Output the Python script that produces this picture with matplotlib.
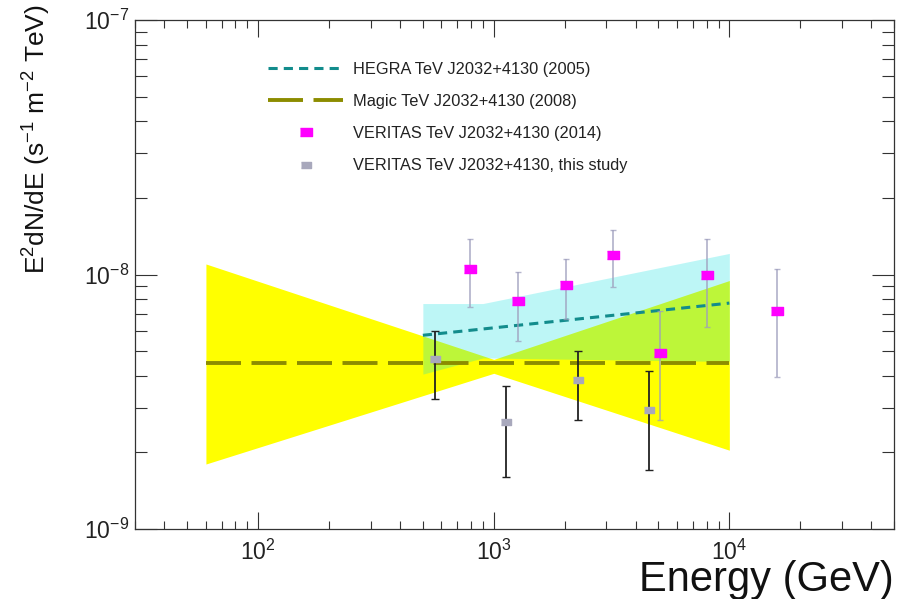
import matplotlib
matplotlib.use("Agg")
import matplotlib.pyplot as plt
from matplotlib.ticker import LogLocator, NullFormatter, FixedLocator

# Fontes parecidas com Helvetica do ROOT
plt.rcParams['font.family'] = ['Liberation Sans', 'DejaVu Sans']
plt.rcParams['mathtext.fontset'] = 'custom'
plt.rcParams['mathtext.rm'] = 'Liberation Sans'
plt.rcParams['mathtext.it'] = 'Liberation Sans:italic'
plt.rcParams['mathtext.bf'] = 'Liberation Sans:bold'

# MAGIC (2008): bowtie e linha constante
magic_band_e = [60, 1000, 10000]
magic_upper = [1.10e-8, 4.64e-9, 9.47e-9]
magic_lower = [1.80e-9, 4.09e-9, 2.04e-9]
magic_e = [60, 10000]
magic_flux = [4.48e-9, 4.48e-9]

# HEGRA (2005): banda e ajuste
hegra_band_e = [500, 900, 10000]
hegra_upper = [7.69e-9, 7.69e-9, 1.21e-8]
hegra_lower = [4.06e-9, 4.70e-9, 4.55e-9]
hegra_e = [500, 10000]
hegra_flux = [5.77e-9, 7.72e-9]

# VERITAS (2014)
v14_e = [790, 1270, 2020, 3210, 5100, 8000, 16000]
v14_flux = [1.05e-8, 7.84e-9, 9.11e-9, 1.19e-8, 4.93e-9, 9.98e-9, 7.19e-9]
v14_hi = [1.38e-8, 1.02e-8, 1.15e-8, 1.49e-8, 7.22e-9, 1.38e-8, 1.05e-8]
v14_lo = [7.42e-9, 5.46e-9, 6.68e-9, 8.97e-9, 2.68e-9, 6.20e-9, 3.96e-9]

# VERITAS, este estudo
vs_e = [562, 1130, 2280, 4540]
vs_flux = [4.64e-9, 2.63e-9, 3.84e-9, 2.94e-9]
vs_hi = [6.01e-9, 3.66e-9, 4.99e-9, 4.17e-9]
vs_lo = [3.25e-9, 1.60e-9, 2.67e-9, 1.70e-9]

fig = plt.figure(figsize=(8.99, 5.99), dpi=100)
ax = fig.add_axes([135 / 899, 70 / 599, 759 / 899, 509 / 599])
ax.set_xscale('log')
ax.set_yscale('log')
ax.set_xlim(30, 5e4)
ax.set_ylim(1e-9, 1e-7)

# bandas
ax.fill_between(magic_band_e, magic_lower, magic_upper, color='#ffff00', lw=0, zorder=1)
ax.fill_between(hegra_band_e, hegra_lower, hegra_upper, color='#00e0e0', alpha=0.26, lw=0, zorder=2)

# linhas
rect = [(-1.5, -1), (1.5, -1), (1.5, 1), (-1.5, 1)]
l_hegra, = ax.plot(hegra_e, hegra_flux, color='#128c8c', lw=2.2, dashes=(3, 2),
                   zorder=5, label='HEGRA TeV J2032+4130 (2005)')
l_magic, = ax.plot(magic_e, magic_flux, color='#8c8c00', lw=2.8, dashes=(9, 2.7),
                   zorder=4, label='Magic TeV J2032+4130 (2008)')

# pontos
lo14 = [f - l for f, l in zip(v14_flux, v14_lo)]
hi14 = [h - f for f, h in zip(v14_flux, v14_hi)]
ax.errorbar(v14_e, v14_flux, yerr=[lo14, hi14], fmt='none', ecolor=(0.62, 0.62, 0.74, 0.75),
            elinewidth=1.3, capsize=2.5, capthick=1.0, zorder=6)
p14, = ax.plot(v14_e, v14_flux, ls='none', marker=rect, ms=8.5, color='#ff00ff',
               mec='#ff00ff', zorder=7, label='VERITAS TeV J2032+4130 (2014)')

los = [f - l for f, l in zip(vs_flux, vs_lo)]
his = [h - f for f, h in zip(vs_flux, vs_hi)]
ax.errorbar(vs_e, vs_flux, yerr=[los, his], fmt='none', ecolor='#222222',
            elinewidth=1.3, capsize=3, capthick=1.0, zorder=6)
ps, = ax.plot(vs_e, vs_flux, ls='none', marker=rect, ms=7.5, color='#a8a8bc',
              mec='#a8a8bc', zorder=7, label='VERITAS TeV J2032+4130, this study')

# eixos estilo ROOT
ax.xaxis.set_major_locator(FixedLocator([1e2, 1e3, 1e4]))
ax.xaxis.set_minor_locator(LogLocator(base=10, subs=range(2, 10), numticks=20))
ax.xaxis.set_minor_formatter(NullFormatter())
ax.yaxis.set_major_locator(FixedLocator([1e-9, 1e-8, 1e-7]))
ax.yaxis.set_minor_locator(LogLocator(base=10, subs=range(2, 10), numticks=20))
ax.yaxis.set_minor_formatter(NullFormatter())
ax.tick_params(axis='both', which='both', direction='in', top=True, right=True,
               color='#333333', width=0.8, labelcolor='#222222', labelsize=16.5)
ax.tick_params(axis='x', which='major', length=12, pad=8)
ax.tick_params(axis='x', which='minor', length=6)
ax.tick_params(axis='y', which='major', length=16, pad=4)
ax.tick_params(axis='y', which='minor', length=8.5)
for s in ax.spines.values():
    s.set_linewidth(0.9)
    s.set_color('#333333')

ax.set_xlabel('Energy (GeV)', fontsize=30, color='#111111', ha='right', va='baseline')
ax.xaxis.set_label_coords(1.0, -0.122)
ax.set_ylabel(r'E$^{2}$dN/dE (s$^{-1}$ m$^{-2}$ TeV)', fontsize=19, color='#111111')
ax.yaxis.set_label_coords(-0.108, 0.765)

ax.legend(handles=[l_hegra, l_magic, p14, ps], loc='upper left', bbox_to_anchor=(0.175, 0.918),
          frameon=False, fontsize=11.8, handlelength=4.6, handletextpad=0.6,
          labelspacing=1.05, borderpad=0, borderaxespad=0, labelcolor='#222222')

fig.savefig('out.png', dpi=100)
